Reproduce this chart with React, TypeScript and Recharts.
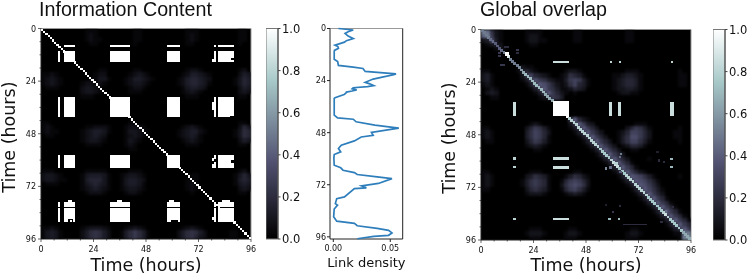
import { ScatterChart, Scatter, XAxis, YAxis, CartesianGrid, ReferenceArea, ReferenceLine } from "recharts";

const hourTicks = [0, 6, 12, 18, 24, 30, 36, 42, 48, 54, 60, 66, 72, 78, 84, 90, 96];
const barTicks = [0, 0.2, 0.4, 0.6, 0.8, 1];
const PX = 210.5 / 96;
const INFO_STEP = 0.032;
const OVERLAP_STEP = 0.042;

// matplotlib "bone"
const boneStops = [
  { at: 0, color: [0, 0, 0] },
  { at: 0.365, color: [81, 81, 113] },
  { at: 0.746, color: [166, 199, 199] },
  { at: 1, color: [255, 255, 255] },
];

// 2 hour cells, base 36, one unit is the panel's step
const infoHaze = [
  "00000000 00111000 00000110 00000000 01110000 00000110",
  "00000000 00121000 00000110 00000000 01210000 00000110",
  "00000000 00121100 00000110 00000000 01210000 00000110",
  "00000000 00011000 00000100 00000000 01100000 00000100",
  "", "", "", "", "",
  "00000000 00000110 00000110 00000000 01221000 00000120",
  "11210000 00001220 00001232 10000000 12443210 00000243",
  "12321000 00011331 00012443 21000001 24554320 00001354",
  "12321000 01221210 00012332 10000001 24554310 00001354",
  "01110000 02332100 00001221 00000000 13443200 00000243",
  "00000000 02332100 00001110 00000000 12321000 00000232",
  "00000000 01110000 00000000 00000000 01110000 00000110",
  "", "", "", "", "",
  "11000000 00000000 00001100 00000000 00000000 00000110",
  "12100000 00112221 00012221 00000000 12321000 00000253",
  "12110000 01234431 00013321 10000001 23442100 00001365",
  "01100000 01234320 00012321 00000001 23431000 00001365",
  "00000000 01233210 00013210 00000000 12321000 00000243",
  "00000000 00111100 00012100 00000000 01110000 00000110",
  "00000000 00000000 00001100 00000000 00000000 00000000",
  "", "", "", "",
  "11100000 00111110 00001110 00000000 00000000 00000120",
  "23321000 01344431 00123321 00000000 00110000 00001353",
  "23321100 01455531 00134432 00000000 01110000 00001454",
  "01110000 01345431 00134431 00000000 01210000 00001343",
  "00000000 01234321 00123321 00000000 01210000 00000232",
  "00000000 00122210 00012210 00000000 00100000 00000110",
  "", "", "", "", "", "", "",
  "11210000 01233321 00012321 00000000 12321000 00000000",
  "13431000 02467642 00146864 10000002 46764200 00011000",
  "13431000 02467642 00146864 10000002 46753200 00011000",
];

const overlapHaze = [
  "cb521000 00111100 00000110 00000000 01100000 00000000",
  "ac621000 00122100 00000110 00000000 01100000 00000000",
  "23831000 00122110 00000110 00000000 01100000 00000000",
  "01232000 00011000 00000000 00000000 00000000 00000000",
  "00012100",
  "", "", "",
  "00000000 12110000",
  "11000000 13421000 00012210 00000000 01110000 00000100",
  "23100000 02674321 00125431 00000011 23321000 00000110",
  "23100000 01368653 21136763 10000012 34431000 00000110",
  "12100000 00136986 42125743 10000012 34431000 00000110",
  "01210000 00013696 53112432 00000012 23321000 00000000",
  "02320000 00001369 64210100 00000001 22110000 00000000",
  "00110000 00000124 65300000 00000000 00000000 00000000",
  "", "", "", "",
  "00000000 00000000 00005942 10000000",
  "00000000 00012100 00002696 32000000 00011100 00000000",
  "11000000 00246531 00001369 64200000 02465310 00000100",
  "12100000 00357642 00000136 96420001 24776420 00001100",
  "12100000 00357641 00000013 69642001 35886420 00001100",
  "01100000 00246531 00000001 36964201 35775310 00000100",
  "00000000 00123210 00000000 13696420 12443100 00000000",
  "00000000 00001100 00000000 01369642 00110000 00000000",
  "00000000 00000000 00000000 00136964 20000000 00000000",
  "00000000 00000000 00000000 00013696 42000010 00000000",
  "00000000 00000000 00000000 00001369 64100000 00000000",
  "00000000 00000000 00000000 00000136 96410000 00000000",
  "11000000 00011100 00000110 00000013 69642100 00000000",
  "12100000 00235431 00013542 10000001 36987531 00000100",
  "12100000 01356541 00146764 20000000 13698753 10000000",
  "12100000 01356541 00257875 20000000 01369864 20000000",
  "11000000 00245431 00146753 10000000 00136975 31000000",
  "00000000 00122210 00012321 00000000 00013696 42000000",
  "00000000 00000000 00000000 00000000 00001369 64100000",
  "00000000 00000000 00000000 00000000 00000136 96410000",
  "00000000 00000000 00000000 00000000 00000013 69641000",
  "00000000 00000000 00000000 00000000 00000001 36964100",
  "00000000 00000000 00000000 00000000 00000000 13696410",
  "00000000 00000000 00000000 00000000 00000000 01369641",
  "00000000 00000000 00000000 00000000 00000000 00136964",
  "00000000 00011100 00001100 00000000 00110000 00013696",
  "00000000 00122210 00012210 00000000 01221000 000011bc",
  "00000000 00011100 00011100 00000000 01110000 000001cf",
];

// [from, to] in hours
const infoColBands = [[7.9, 8.7], [10.7, 15.5], [31.6, 40.7], [57.5, 63.6], [79, 80.2], [81, 88.1]];
const infoRowBands = [[7.3, 8.4], [10.4, 15.1], [31.3, 40.5], [57.6, 63.4], [79.2, 81.2], [81.8, 88.2]];

// [x0, x1, y0, y1, value]
const infoPatches = [
  [12.2, 14, 78.4, 79.2, 1], [34.6, 36.8, 78.4, 79.2, 1], [58.5, 60.8, 78.4, 79.2, 1], [82.8, 86.6, 78.4, 79.2, 1],
  [78, 79, 14, 15.1, 1], [78, 79, 33.6, 37, 1], [78, 79, 59, 60.2, 1], [78, 79, 61.8, 63.4, 1], [78, 79, 86, 87.5, 1],
  [86.7, 88.1, 13.4, 14.4, 0], [86.5, 88.1, 39.8, 40.5, 0], [86.9, 88.1, 60, 61.5, 0], [79, 80.2, 59.5, 61, 0],
  [12.5, 14.5, 86.8, 88.2, 0], [13.3, 14.3, 87.2, 88.2, 1], [59.5, 62.5, 87.2, 88.2, 0], [8.7, 9.2, 80, 81, 0],
];

const overlapPatches = [
  [33, 40, 14.4, 15.4, 0.85], [33, 40, 58.3, 59.5, 0.85], [33, 40, 62.2, 63.4, 0.85], [33, 40, 85.9, 87.1, 0.85],
  [14.7, 15.9, 33, 39.5, 0.85], [58.7, 60, 33, 39.5, 0.85], [62.7, 64, 33, 39.5, 0.85], [86.6, 88, 33, 39.5, 0.85],
  [33.1, 40, 32.5, 39.4, 1],
  [14.8, 15.8, 58.3, 59.3, 0.8], [14.8, 15.8, 62.1, 63.1, 0.8], [14.8, 15.8, 86.1, 87.1, 0.8],
  [58.8, 59.8, 14.3, 15.3, 0.8], [62.9, 63.9, 14.3, 15.3, 0.8], [86.8, 87.8, 14.3, 15.3, 0.8],
  [58.2, 59.2, 86.1, 87.1, 0.7], [62.5, 63.5, 86.1, 87.1, 0.7], [86.6, 87.6, 58.4, 59.4, 0.7], [86.6, 87.6, 62.2, 63.2, 0.7],
  [11, 12.6, 10.4, 12, 1], [8, 9, 10.4, 11.4, 0.25], [8, 9, 11.6, 12.6, 0.25], [16.2, 17.2, 8.9, 9.9, 0.25], [16.2, 17.2, 10.4, 11.4, 0.2],
  [10.5, 13, 7.4, 8.4, 0.2], [8.5, 11, 15.7, 16.7, 0.25],
  [63.5, 64.5, 56.1, 57.1, 0.5], [63, 64, 57.6, 58.6, 0.45], [61, 62.5, 60.4, 61.9, 0.8], [56.7, 57.7, 62.9, 63.9, 0.55],
  [58.7, 59.7, 62.4, 63.4, 0.45], [63.3, 64.3, 64.5, 65.5, 0.4], [83.2, 84.2, 59.9, 60.9, 0.2], [80.9, 81.9, 59.2, 60.2, 0.2],
  [80.2, 81.2, 55.4, 56.4, 0.15], [84.2, 85.2, 82.5, 83.5, 0.45], [87.3, 88.3, 80.4, 81.4, 0.2], [82, 83, 87.2, 88.2, 0.2],
  [59.7, 60.7, 82.7, 83.7, 0.25], [56.7, 57.7, 79.6, 80.6, 0.15], [63.2, 64.2, 80, 81, 0.2], [65, 76, 88.5, 89.3, 0.2],
];

const overlapDiag = [
  0.5, 0.5, 0.5, 0.5, 0.45, 0.45, 0.4, 0.4, 0.4, 0.45, 0.5, 0.7, 0.9, 0.55, 0.5, 0.5,
  0.5, 0.55, 0.6, 0.65, 0.7, 0.7, 0.7, 0.7, 0.7, 0.7, 0.7, 0.7, 0.7, 0.65, 0.65, 0.65,
  0.65, 1, 1, 1, 1, 1, 1, 1, 0.8, 0.8, 0.8, 0.8, 0.8, 0.8, 0.8, 0.8,
  0.8, 0.8, 0.8, 0.8, 0.8, 0.8, 0.75, 0.75, 0.75, 0.75, 0.75, 0.8, 0.85, 0.9, 0.85, 0.75,
  0.75, 0.75, 0.8, 0.8, 0.8, 0.8, 0.8, 0.8, 0.8, 0.8, 0.8, 0.8, 0.75, 0.75, 0.75, 0.75,
  0.75, 0.75, 0.75, 0.8, 0.85, 0.8, 0.75, 0.75, 0.75, 0.75, 0.75, 0.75, 0.65, 0.65, 0.65, 0.65,
];

const densityHours = [
  0, 0.7, 1.5, 2.3, 3.5, 4.6, 5.6, 6.3, 7.7, 8.3, 9.1, 10.1, 10.6, 14.2, 15.2, 17, 17.8, 18.4, 19.8, 20.9, 21.3, 22.3, 23.3, 24.8,
  25.5, 26.3, 26.8, 27.3, 27.8, 28.3, 28.8, 29.3, 29.8, 30.4, 31.9, 32.2, 39.9, 41.2, 41.8, 43, 44.5, 45.9, 47.9, 49.2, 50,
  51.8, 53.8, 55.3, 56.8, 58.1, 59.7, 63, 64.2, 65.3, 66.4, 67.3, 68.4, 69.2, 71.4, 72.5, 73.4, 73.8, 77.6, 78.4, 80.7, 81.4,
  83.2, 86.8, 88.8, 89.8, 90.9, 92.1, 93, 94.2, 95.3, 95.8, 96.9,
];
const densityValues = [
  0.0045, 0.0175, 0.013, 0.0103, 0.013, 0.0175, 0.0115, 0.0098, 0.0015, 0.004, 0.0045, 0.001, 0.0008, 0.0008, 0.0038, 0.0045, 0.0175, 0.026, 0.028, 0.055, 0.053, 0.044, 0.035, 0.028,
  0.032, 0.0355, 0.03, 0.0175, 0.0165, 0.0205, 0.0165, 0.0115, 0.011, 0.0095, 0.0015, 0.0008, 0.0008, 0.0038, 0.0175, 0.02, 0.0365, 0.0575, 0.0335, 0.035, 0.0245,
  0.0185, 0.007, 0.0045, 0.0065, 0.0008, 0.0005, 0.0008, 0.0065, 0.0085, 0.0185, 0.021, 0.0385, 0.0515, 0.0395, 0.0248, 0.029, 0.0185, 0.0098, 0.003, 0.0018, 0.0037,
  0.0008, 0.0003, 0.003, 0.0185, 0.021, 0.0385, 0.0485, 0.0515, 0.0485, 0.0355, 0.021,
];

const densityData = densityHours.map((hour, i) => ({ hour, density: densityValues[i] }));
const barAnchors = [{ x: 0, y: 0 }, { x: 1, y: 1 }];

function bone(v: number) {
  let i = 0;
  while (i < boneStops.length - 2 && v > boneStops[i + 1].at) i++;
  const a = boneStops[i], b = boneStops[i + 1];
  const t = (v - a.at) / (b.at - a.at);
  const c = a.color.map((n, k) => Math.round(n + (b.color[k] - n) * t));
  return `rgb(${c[0]},${c[1]},${c[2]})`;
}

const toCell = ([x0, x1, y0, y1, v]: number[]) => ({ x: (x0 + x1) / 2, y: (y0 + y1) / 2, w: x1 - x0, h: y1 - y0, v });

function hazeCells(rows: string[], step: number) {
  const out: number[][] = [];
  rows.forEach((row, r) => {
    row.replace(/ /g, "").split("").forEach((ch, c) => {
      const n = parseInt(ch, 36);
      if (n > 0) out.push([c * 2, c * 2 + 2, r * 2, r * 2 + 2, n * step]);
    });
  });
  return out.map(toCell);
}

function infoCells() {
  const blocks: number[][] = [];
  infoRowBands.forEach((r, ri) => infoColBands.forEach((c, ci) => {
    if (ri === 0 && ci === 0) return;
    blocks.push([c[0], c[1], r[0], r[1], 1]);
  }));
  const diag = Array.from({ length: 96 }, (_, h) => [h, h + 1, h, h + 1, 1]);
  return [...blocks, ...infoPatches, ...diag].map(toCell);
}

function overlapCells() {
  const diag = overlapDiag.map((v, h) => [h - 0.15, h + 1.15, h - 0.15, h + 1.15, v]);
  return [...diag, ...overlapPatches].map(toCell);
}

function HeatCell(props: any) {
  const { cx, cy, payload } = props;
  const w = payload.w * PX, h = payload.h * PX;
  return <rect x={cx - w / 2} y={cy - h / 2} width={w} height={h} fill={bone(payload.v)} shapeRendering="crispEdges" />;
}

const NoDot = () => null;

function BottomTick({ x, y, payload }: any) {
  const major = payload.value % 24 === 0;
  return (
    <g>
      <line x1={x} x2={x} y1={y} y2={y + (major ? 3 : 1.5)} stroke="#222" strokeWidth={0.7} />
      {major && <text x={x} y={y + 13} fontSize={8} textAnchor="middle" fill="#111" fontFamily="DejaVu Sans">{payload.value}</text>}
    </g>
  );
}

function LeftTick({ x, y, payload }: any) {
  const major = payload.value % 24 === 0;
  return (
    <g>
      <line x1={x} x2={x - (major ? 3 : 1.5)} y1={y} y2={y} stroke="#222" strokeWidth={0.7} />
      {major && <text x={x - 5} y={y + 3} fontSize={8} textAnchor="end" fill="#111" fontFamily="DejaVu Sans">{payload.value}</text>}
    </g>
  );
}

const axisLabel = { fontFamily: "DejaVu Sans", fontSize: 17.5, fill: "#111" };

function Heatmap({ left, top, haze, cells }: { left: number; top: number; haze: any[]; cells: any[] }) {
  return (
    <div style={{ position: "absolute", left, top: 0 }}>
      <ScatterChart width={262} height={274} margin={{ top, right: 11, bottom: 0, left: 0 }}>
        <CartesianGrid horizontal={false} vertical={false} fill="#000" />
        <XAxis type="number" dataKey="x" domain={[0, 96]} ticks={hourTicks} interval={0} height={274 - top - 210.5}
          tick={<BottomTick />} tickLine={false} tickSize={0} tickMargin={0} stroke="#222" allowDataOverflow
          label={{ value: "Time (hours)", position: "insideBottom", offset: 3, style: axisLabel }} />
        <YAxis type="number" dataKey="y" domain={[0, 96]} reversed ticks={hourTicks} interval={0} width={41}
          tick={<LeftTick />} tickLine={false} tickSize={0} tickMargin={0} stroke="#222" allowDataOverflow
          label={{ value: "Time (hours)", angle: -90, position: "insideLeft", offset: 9, dy: 59, style: axisLabel }} />
        <Scatter className="haze" data={haze} shape={<HeatCell />} isAnimationActive={false} />
        <Scatter data={cells} shape={<HeatCell />} isAnimationActive={false} />
        <ReferenceLine y={0} stroke="#999" strokeWidth={1.2} />
        <ReferenceLine x={96} stroke="#999" strokeWidth={1} />
      </ScatterChart>
    </div>
  );
}

function Colorbar({ left, top, id }: { left: number; top: number; id: string }) {
  return (
    <div style={{ position: "absolute", left, top: 0 }}>
      <ScatterChart width={46} height={274} margin={{ top, right: 0, bottom: 274 - top - 210.5, left: 0 }}>
        <defs>
          <linearGradient id={id} x1="0" y1="1" x2="0" y2="0">
            {boneStops.map((s) => <stop key={s.at} offset={s.at} stopColor={bone(s.at)} />)}
          </linearGradient>
        </defs>
        <XAxis type="number" dataKey="x" domain={[0, 1]} hide />
        <YAxis type="number" dataKey="y" orientation="right" domain={[0, 1]} ticks={barTicks} interval={0} width={34}
          tickFormatter={(v) => v.toFixed(1)} tick={{ fontSize: 11.5, fontFamily: "DejaVu Sans", fill: "#111" }}
          tickSize={2.5} tickMargin={1.5} stroke="#444" />
        <Scatter data={barAnchors} shape={<NoDot />} isAnimationActive={false} />
        <ReferenceArea x1={0} x2={1} y1={0} y2={1} fill={`url(#${id})`} fillOpacity={1} stroke="#777" strokeWidth={1} />
      </ScatterChart>
    </div>
  );
}

function DensityPanel() {
  return (
    <div style={{ position: "absolute", left: 300, top: 0 }}>
      <ScatterChart width={125} height={274} margin={{ top: 28.5, right: 22.3, bottom: 0, left: 0 }}>
        <XAxis type="number" dataKey="density" domain={[-0.0029, 0.0609]} ticks={[0, 0.05]} interval={0} height={35} allowDataOverflow
          tickFormatter={(v) => v.toFixed(2)} tick={{ fontSize: 8, fontFamily: "DejaVu Sans", fill: "#111" }}
          tickSize={3} tickMargin={3} stroke="#222"
          label={{ value: "Link density", position: "insideBottom", offset: 7, style: { fontFamily: "DejaVu Sans", fontSize: 13, fill: "#111" } }} />
        <YAxis type="number" dataKey="hour" domain={[0, 97]} reversed ticks={[0, 24, 48, 72, 96]} interval={0} width={30}
          tick={{ fontSize: 8, fontFamily: "DejaVu Sans", fill: "#111" }} tickSize={3} tickMargin={1} stroke="#222" />
        <ReferenceLine y={0} stroke="#999" strokeWidth={1.2} />
        <ReferenceLine x={0.0609} stroke="#222" strokeWidth={1} />
        <Scatter data={densityData} line={{ stroke: "#2e7ebc", strokeWidth: 1.7 }} shape={<NoDot />} isAnimationActive={false} />
      </ScatterChart>
    </div>
  );
}

const titleStyle = { position: "absolute", top: 0, lineHeight: "19px", fontFamily: "Liberation Sans", fontSize: 19.7, color: "#111", whiteSpace: "nowrap" } as const;

export default function App() {
  return (
    <div style={{ position: "fixed", left: 0, top: 0, width: 747, height: 274, background: "#fff", overflow: "hidden", filter: "blur(0.35px)" }}>
      <style>{".haze{filter:blur(1px)}"}</style>
      <div style={{ ...titleStyle, left: 39 }}>Information Content</div>
      <div style={{ ...titleStyle, left: 480 }}>Global overlap</div>
      <Heatmap left={0} top={28.5} haze={hazeCells(infoHaze, INFO_STEP)} cells={infoCells()} />
      <Colorbar left={266} top={28.5} id="boneA" />
      <DensityPanel />
      <Heatmap left={440} top={29.5} haze={hazeCells(overlapHaze, OVERLAP_STEP)} cells={overlapCells()} />
      <Colorbar left={713} top={29.5} id="boneB" />
    </div>
  );
}
